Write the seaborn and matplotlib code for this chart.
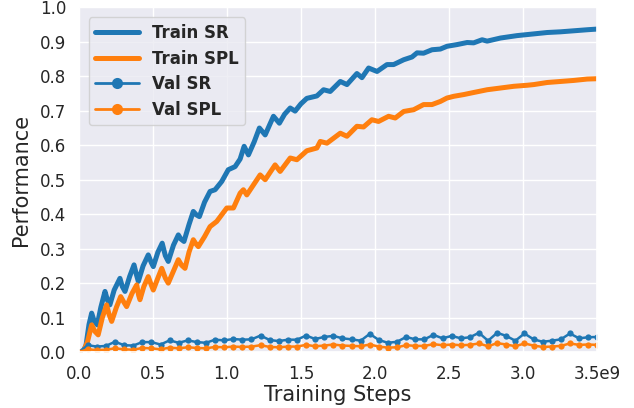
import numpy as np
import pandas as pd
import matplotlib
matplotlib.use("Agg")
import matplotlib.pyplot as plt
import seaborn as sns

# ---- data (steps in units of 1e9) ----
train_sr_x = [0, 0.03, 0.05, 0.07, 0.088, 0.105, 0.126, 0.15, 0.178, 0.195, 0.211, 0.24, 0.279, 0.295,
              0.313, 0.345, 0.374, 0.39, 0.403, 0.435, 0.47, 0.49, 0.504, 0.535, 0.564, 0.585, 0.605,
              0.64, 0.673, 0.69, 0.711, 0.745, 0.774, 0.795, 0.815, 0.85, 0.887, 0.921, 0.966, 1.01,
              1.056, 1.09, 1.117, 1.146, 1.185, 1.22, 1.259, 1.29, 1.315, 1.355, 1.39, 1.428, 1.461,
              1.50, 1.54, 1.608, 1.653, 1.698, 1.766, 1.811, 1.878, 1.912, 1.957, 2.014, 2.081, 2.126,
              2.194, 2.25, 2.284, 2.328, 2.385, 2.441, 2.486, 2.554, 2.622, 2.666, 2.723, 2.757, 2.847,
              2.959, 3.072, 3.162, 3.252, 3.342, 3.432, 3.5]
train_sr = [0.0, 0.0, 0.02, 0.08, 0.113, 0.09, 0.079, 0.13, 0.176, 0.15, 0.137, 0.18, 0.214, 0.19,
            0.176, 0.22, 0.253, 0.225, 0.205, 0.25, 0.282, 0.26, 0.248, 0.29, 0.316, 0.28, 0.263,
            0.31, 0.34, 0.328, 0.321, 0.37, 0.408, 0.398, 0.393, 0.435, 0.466, 0.471, 0.495, 0.529,
            0.538, 0.56, 0.597, 0.572, 0.61, 0.65, 0.63, 0.66, 0.684, 0.664, 0.69, 0.708, 0.699,
            0.72, 0.736, 0.743, 0.761, 0.756, 0.785, 0.776, 0.808, 0.796, 0.824, 0.814, 0.834, 0.834,
            0.848, 0.856, 0.868, 0.867, 0.877, 0.879, 0.887, 0.892, 0.898, 0.897, 0.906, 0.902, 0.911,
            0.918, 0.923, 0.927, 0.929, 0.932, 0.935, 0.937]

train_spl_x = [0, 0.03, 0.06, 0.088, 0.11, 0.132, 0.16, 0.189, 0.205, 0.223, 0.255, 0.284, 0.305,
               0.324, 0.36, 0.392, 0.405, 0.414, 0.44, 0.47, 0.49, 0.504, 0.535, 0.561, 0.585, 0.605,
               0.64, 0.673, 0.695, 0.718, 0.745, 0.774, 0.79, 0.808, 0.85, 0.887, 0.932, 1.0, 1.045,
               1.09, 1.112, 1.135, 1.18, 1.225, 1.259, 1.326, 1.36, 1.428, 1.473, 1.54, 1.608, 1.631,
               1.676, 1.766, 1.811, 1.878, 1.923, 1.979, 2.024, 2.092, 2.137, 2.194, 2.261, 2.328,
               2.385, 2.441, 2.486, 2.532, 2.599, 2.666, 2.757, 2.847, 2.937, 3.027, 3.072, 3.162,
               3.252, 3.342, 3.432, 3.5]
train_spl = [0.0, 0.0, 0.03, 0.079, 0.06, 0.05, 0.1, 0.137, 0.11, 0.089, 0.13, 0.161, 0.145,
             0.132, 0.17, 0.195, 0.165, 0.152, 0.19, 0.219, 0.195, 0.18, 0.215, 0.243, 0.215, 0.2,
             0.235, 0.268, 0.252, 0.243, 0.29, 0.326, 0.315, 0.306, 0.335, 0.364, 0.379, 0.418, 0.418,
             0.461, 0.471, 0.456, 0.485, 0.514, 0.5, 0.543, 0.524, 0.563, 0.558, 0.584, 0.592, 0.611,
             0.606, 0.635, 0.626, 0.655, 0.653, 0.674, 0.669, 0.684, 0.679, 0.698, 0.703, 0.718,
             0.718, 0.727, 0.737, 0.742, 0.747, 0.753, 0.761, 0.766, 0.771, 0.774, 0.776, 0.782,
             0.785, 0.788, 0.792, 0.793]

val_x = np.linspace(0, 3.5, 58)
val_sr = [0.0, 0.020, 0.016, 0.018, 0.030, 0.020, 0.019, 0.029, 0.029, 0.022, 0.034, 0.027, 0.034,
          0.029, 0.027, 0.036, 0.034, 0.038, 0.036, 0.037, 0.048, 0.035, 0.032, 0.036, 0.036, 0.048,
          0.038, 0.044, 0.047, 0.040, 0.037, 0.033, 0.053, 0.035, 0.027, 0.030, 0.044, 0.037, 0.037,
          0.050, 0.040, 0.047, 0.040, 0.043, 0.056, 0.033, 0.056, 0.047, 0.033, 0.054, 0.037, 0.030,
          0.033, 0.037, 0.054, 0.040, 0.043, 0.044]
val_spl = [0.0, 0.008, 0.006, 0.007, 0.011, 0.008, 0.007, 0.012, 0.011, 0.008, 0.013, 0.011, 0.014,
           0.012, 0.011, 0.015, 0.014, 0.016, 0.015, 0.016, 0.020, 0.015, 0.014, 0.016, 0.016, 0.021,
           0.017, 0.019, 0.022, 0.019, 0.018, 0.017, 0.022, 0.016, 0.013, 0.014, 0.020, 0.018, 0.018,
           0.023, 0.020, 0.022, 0.020, 0.021, 0.025, 0.017, 0.026, 0.022, 0.017, 0.025, 0.019, 0.015,
           0.016, 0.018, 0.025, 0.021, 0.022, 0.021]

x_ticks = [0.0, 0.5, 1.0, 1.5, 2.0, 2.5, 3.0, 3.5]
x_ticklabels = ["0.0", "0.5", "1.0", "1.5", "2.0", "2.5", "3.0", "3.5e9"]
y_ticks = [0.0, 0.1, 0.2, 0.3, 0.4, 0.5, 0.6, 0.7, 0.8, 0.9, 1.0]

SCALE = 1e9

sns.set_theme(style="darkgrid")
plt.rcParams['font.family'] = ['DejaVu Sans']

blue = "#1f77b4"
orange = "#ff7f0e"

fig = plt.figure(figsize=(6.34, 4.08), dpi=100)
ax = fig.add_axes([0.124, 0.137, 0.818, 0.845])

sns.lineplot(x=np.array(train_sr_x) * SCALE, y=train_sr, ax=ax, color=blue, lw=3.6,
             label="Train SR", sort=False)
sns.lineplot(x=np.array(train_spl_x) * SCALE, y=train_spl, ax=ax, color=orange, lw=3.6,
             label="Train SPL", sort=False)
sns.lineplot(x=val_x * SCALE, y=val_sr, ax=ax, color=blue, lw=1.8, marker="o",
             markersize=4.5, markeredgecolor=blue, markeredgewidth=0, label="Val SR", sort=False)
sns.lineplot(x=val_x * SCALE, y=val_spl, ax=ax, color=orange, lw=1.8, marker="o",
             markersize=4.5, markeredgecolor=orange, markeredgewidth=0, label="Val SPL", sort=False)

ax.set_xlim(0, 3.5 * SCALE)
ax.set_ylim(0, 1.0)
ax.set_xticks([t * SCALE for t in x_ticks])
ax.set_xticklabels(x_ticklabels, fontsize=12)
ax.set_yticks(y_ticks)
ax.set_yticklabels([f"{t:.1f}" for t in y_ticks], fontsize=12)
ax.tick_params(axis="both", pad=3)
ax.set_xlabel("Training Steps", fontsize=15, labelpad=2)
ax.set_ylabel("Performance", fontsize=15, labelpad=6)

leg = ax.legend(loc="upper left", prop={"weight": "bold", "size": 12}, handlelength=2.6,
                borderaxespad=0.6, labelspacing=0.45)
for h in leg.legend_handles[2:]:
    h.set_markersize(8)
    h.set_linewidth(2.0)
for h in leg.legend_handles[:2]:
    h.set_linewidth(3.6)

fig.savefig("out.png", dpi=100)
